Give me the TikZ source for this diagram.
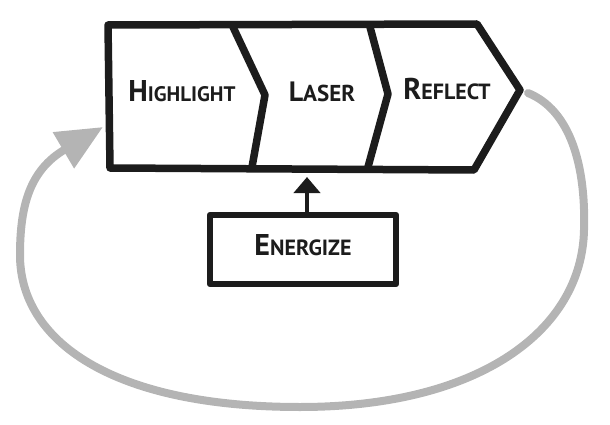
\documentclass[tikz,border=0pt]{standalone}
\usepackage{fontspec}
\setmainfont{PT Sans}
\usetikzlibrary{arrows.meta}
\definecolor{ink}{HTML}{1C1C1C}
\definecolor{loopgray}{HTML}{B4B4B4}
\newcommand{\bigsmall}[4]{{\fontsize{#1}{#1}\selectfont #2}{\fontsize{#3}{#3}\selectfont #4}}
\tikzset{
  inkline/.style={draw=ink, line width=7.5pt, line join=round, line cap=round},
  label/.style={anchor=base, inner sep=0pt, text=ink, font=\bfseries},
  loopline/.style={draw=loopgray, line width=8pt, line cap=round},
}
\begin{document}
\begin{tikzpicture}[x=1pt,y=-1pt]
\useasboundingbox (0,0) rectangle (610,425);
% chevron band
\draw[inkline] (108,25) -- (477,24) -- (520,90) -- (474,170) -- (110,168) -- cycle;
\draw[inkline] (233,27) -- (265,95) -- (252,167);
\draw[inkline] (370,27) -- (388,94) -- (368,167);
% labels
\node[label] (highlight) at (182,102) {\bigsmall{30}{H}{21}{IGHLIGHT}};
\node[label] (laser) at (322,102) {\bigsmall{28}{L}{23}{ASER}};
\node[label] (reflect) at (447,100) {\bigsmall{30}{R}{22}{EFLECT}};
% energize box
\node[draw=ink, line width=6.5pt, line join=round, minimum width=186pt, minimum height=69pt,
      inner sep=0pt, text height=22pt, text depth=11pt, text=ink, font=\bfseries] (energize) at (303,249.5)
      {\bigsmall{30}{E}{22}{NERGIZE}};
\coordinate (lasertip) at (307,177);
\draw[draw=ink, line width=4.5pt, -{Triangle[width=26pt,length=16pt]}] ([xshift=4pt]energize.north) -- (lasertip);
% feedback loop
\coordinate (loopstart) at (528,93);
\coordinate (loopend) at (103,127);
\draw[loopline, -{Triangle[width=40pt,length=46pt]}] (loopstart)
  .. controls (570,110) and (586,165) .. (584,230)
  .. controls (582,330) and (480,407) .. (300,407)
  .. controls (110,407) and (20,340) .. (20,255)
  .. controls (20,205) and (30,170) .. (loopend);
\end{tikzpicture}
\end{document}
